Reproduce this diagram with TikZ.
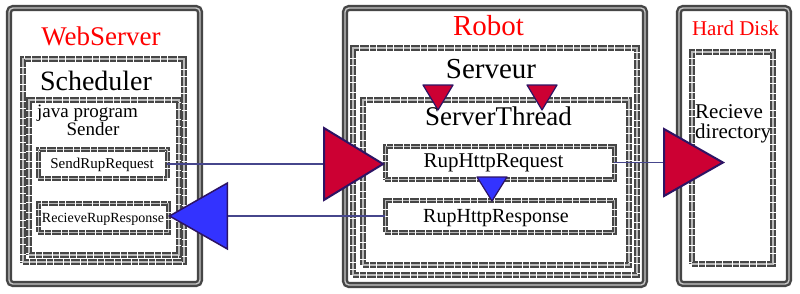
\documentclass[tikz,border=0pt]{standalone}
\usepackage{fontspec}
\setmainfont{Liberation Serif}
\usetikzlibrary{arrows.meta}
\definecolor{bdr}{RGB}{70,70,70}
\definecolor{tri}{RGB}{204,0,51}
\definecolor{tblue}{RGB}{51,51,255}
\definecolor{navy}{RGB}{45,20,100}
\definecolor{wire}{RGB}{70,70,140}
\begin{document}
\begin{tikzpicture}[x=1pt,y=-1pt,
  outerbox/.style={draw=bdr, line width=2.4pt, double=gray!45, double distance=1.4pt, rounded corners=4pt, inner sep=0pt, outer sep=0pt},
  dbox/.style={draw=bdr, line width=2.1pt, double=gray!55, double distance=1.4pt, dash pattern=on 3pt off 0.4pt, inner sep=0pt, outer sep=0pt},
  sbox/.style={draw=bdr, line width=2pt, double=gray!55, double distance=1pt, dash pattern=on 3pt off 0.4pt, inner sep=0pt, outer sep=0pt},
  lbl/.style={anchor=base, inner sep=0pt, font=\fontsize{#1}{#1}\selectfont},
  rlbl/.style={lbl=#1, text=red},
  wirel/.style={draw=wire, line width=1.3pt},
  bigred/.style={-{Triangle[length=#1, width=75pt, fill=tri, color=navy, line width=2pt]}},
  bigblue/.style={-{Triangle[length=#1, width=68pt, fill=tblue, color=navy, line width=1.5pt]}}
]
\useasboundingbox (0,0) rectangle (800,293);
\fill[white] (0,0) rectangle (800,293);

% WebServer
\node[outerbox, minimum width=191pt, minimum height=276pt] (web) at (104.5,146) {};
\node[dbox, minimum width=161pt, minimum height=203pt] (sched) at (103.5,160.5) {};
\node[dbox, minimum width=150pt, minimum height=155pt] (java) at (104,177.5) {};
\node[sbox, minimum width=129pt, minimum height=29pt] (sendreq) at (102.5,164) {};
\node[sbox, minimum width=130pt, minimum height=29pt] (recvresp) at (103,217.5) {};
\node[rlbl=27] (tweb) at (101,45) {WebServer};
\node[lbl=28] (tsched) at (96,90) {Scheduler};
\node[lbl=19] (tjava) at (87.5,117) {java program};
\node[lbl=19] (tsender) at (93,135) {Sender};
\node[lbl=15] (tsendreq) at (102,168) {SendRupRequest};
\node[lbl=14] (trecvresp) at (103,222.5) {RecieveRupResponse};

% Robot
\node[outerbox, minimum width=300pt, minimum height=277pt] (robot) at (495,146.5) {};
\node[dbox, minimum width=284pt, minimum height=227pt] (serveur) at (495,161.5) {};
\node[dbox, minimum width=266pt, minimum height=165pt] (sthread) at (496,182.5) {};
\node[sbox, minimum width=229pt, minimum height=33pt] (rupreq) at (499.5,162.5) {};
\node[sbox, minimum width=229pt, minimum height=32pt] (rupresp) at (499.5,216) {};
\node[rlbl=29] (trobot) at (488.5,35) {Robot};
\node[lbl=29] (tserveur) at (491,78) {Serveur};
\node[lbl=27] (tsthread) at (498.5,125) {ServerThread};
\node[lbl=21] (trupreq) at (493.5,167) {RupHttpRequest};
\node[lbl=20] (trupresp) at (496,222) {RupHttpResponse};

% Hard Disk
\node[outerbox, minimum width=110pt, minimum height=276pt] (hdd) at (734,146) {};
\node[dbox, minimum width=81pt, minimum height=212pt] (rdir) at (732.5,158) {};
\node[rlbl=21] (thdd) at (735.5,35) {Hard Disk};
\node[lbl=21, anchor=base west] (trec) at (695,118) {Recieve};
\node[lbl=21, anchor=base west] (tdir) at (695,138) {directory};
\coordinate (rdirin) at (725,162.5);

% small triangles
\filldraw[fill=tri, draw=navy, line width=1.2pt, line join=round] (423,85) -- (453,85) -- (438,110) -- cycle;
\filldraw[fill=tri, draw=navy, line width=1.2pt, line join=round] (527,85) -- (557,85) -- (542,110) -- cycle;
\filldraw[fill=tblue, draw=navy, line width=1.2pt, line join=round] (477,177) -- (507,177) -- (492,201) -- cycle;

% connectors
\draw[wirel, bigred=62pt] (sendreq.east) -- (sendreq.east -| rupreq.west);
\draw[wirel, bigblue=60pt] (rupresp.west) -- (rupresp.west -| recvresp.east);
\draw[wirel, -{Triangle[length=62pt, width=70pt, fill=tri, color=navy, line width=2pt]}] (rupreq.east) -- (rdirin);
\end{tikzpicture}
\end{document}
